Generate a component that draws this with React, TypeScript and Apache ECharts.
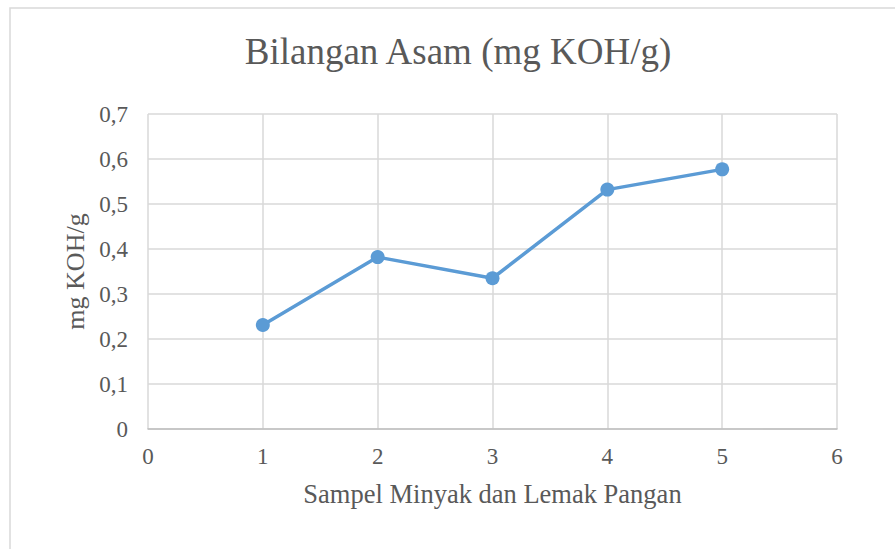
import React, { useEffect, useRef } from "react";
import * as echarts from "echarts";

const xValues = [1, 2, 3, 4, 5];
const yValues = [0.231, 0.382, 0.335, 0.532, 0.577];
const titleText = "Bilangan Asam (mg KOH/g)";
const xName = "Sampel Minyak dan Lemak Pangan";
const yName = "mg KOH/g";

export default function App() {
  const ref = useRef<HTMLDivElement>(null);
  useEffect(() => {
    document.body.style.margin = "0";
    const chart = echarts.init(ref.current!, null, { renderer: "svg" });
    const font = "'Liberation Serif', 'Times New Roman', serif";
    chart.setOption({
      animation: false,
      backgroundColor: "#ffffff",
      textStyle: { fontFamily: font },
      graphic: [
        {
          type: "rect",
          shape: { x: 10, y: 8, width: 900, height: 560 },
          style: { fill: "none", stroke: "#d9d9d9", lineWidth: 1.5 },
          silent: true,
        },
        {
          type: "text",
          x: 458,
          y: 51,
          style: {
            text: titleText,
            fontFamily: font,
            fontSize: 37,
            fill: "#595959",
            textAlign: "center",
            textVerticalAlign: "middle",
          },
        },
      ],
      grid: { left: 148, right: 58, top: 114, bottom: 120 },
      xAxis: {
        type: "value",
        min: 0,
        max: 6,
        interval: 1,
        name: xName,
        nameLocation: "middle",
        nameGap: 51,
        nameTextStyle: { fontFamily: font, fontSize: 26.5, color: "#595959" },
        axisLine: { show: true, lineStyle: { color: "#bfbfbf", width: 1.5 } },
        axisTick: { show: false },
        axisLabel: { fontFamily: font, fontSize: 23, color: "#595959", margin: 16 },
        splitLine: { show: true, lineStyle: { color: "#d9d9d9", width: 1.5 } },
      },
      yAxis: {
        type: "value",
        min: 0,
        max: 0.7,
        interval: 0.1,
        name: yName,
        nameLocation: "middle",
        nameGap: 54,
        nameTextStyle: { fontFamily: font, fontSize: 26, color: "#595959" },
        axisLine: { show: false },
        axisTick: { show: false },
        axisLabel: {
          fontFamily: font,
          fontSize: 23,
          color: "#595959",
          margin: 20,
          formatter: (v: number) => (Math.round(v * 10) / 10).toString().replace(".", ","),
        },
        splitLine: { show: true, lineStyle: { color: "#d9d9d9", width: 1.5 } },
      },
      series: [
        {
          type: "line",
          data: xValues.map((x, i) => [x, yValues[i]]),
          symbol: "circle",
          symbolSize: 14,
          lineStyle: { color: "#5b9bd5", width: 3.5 },
          itemStyle: { color: "#5b9bd5" },
        },
      ],
    });
    return () => chart.dispose();
  }, []);
  return <div ref={ref} style={{ width: 895, height: 549 }} />;
}
